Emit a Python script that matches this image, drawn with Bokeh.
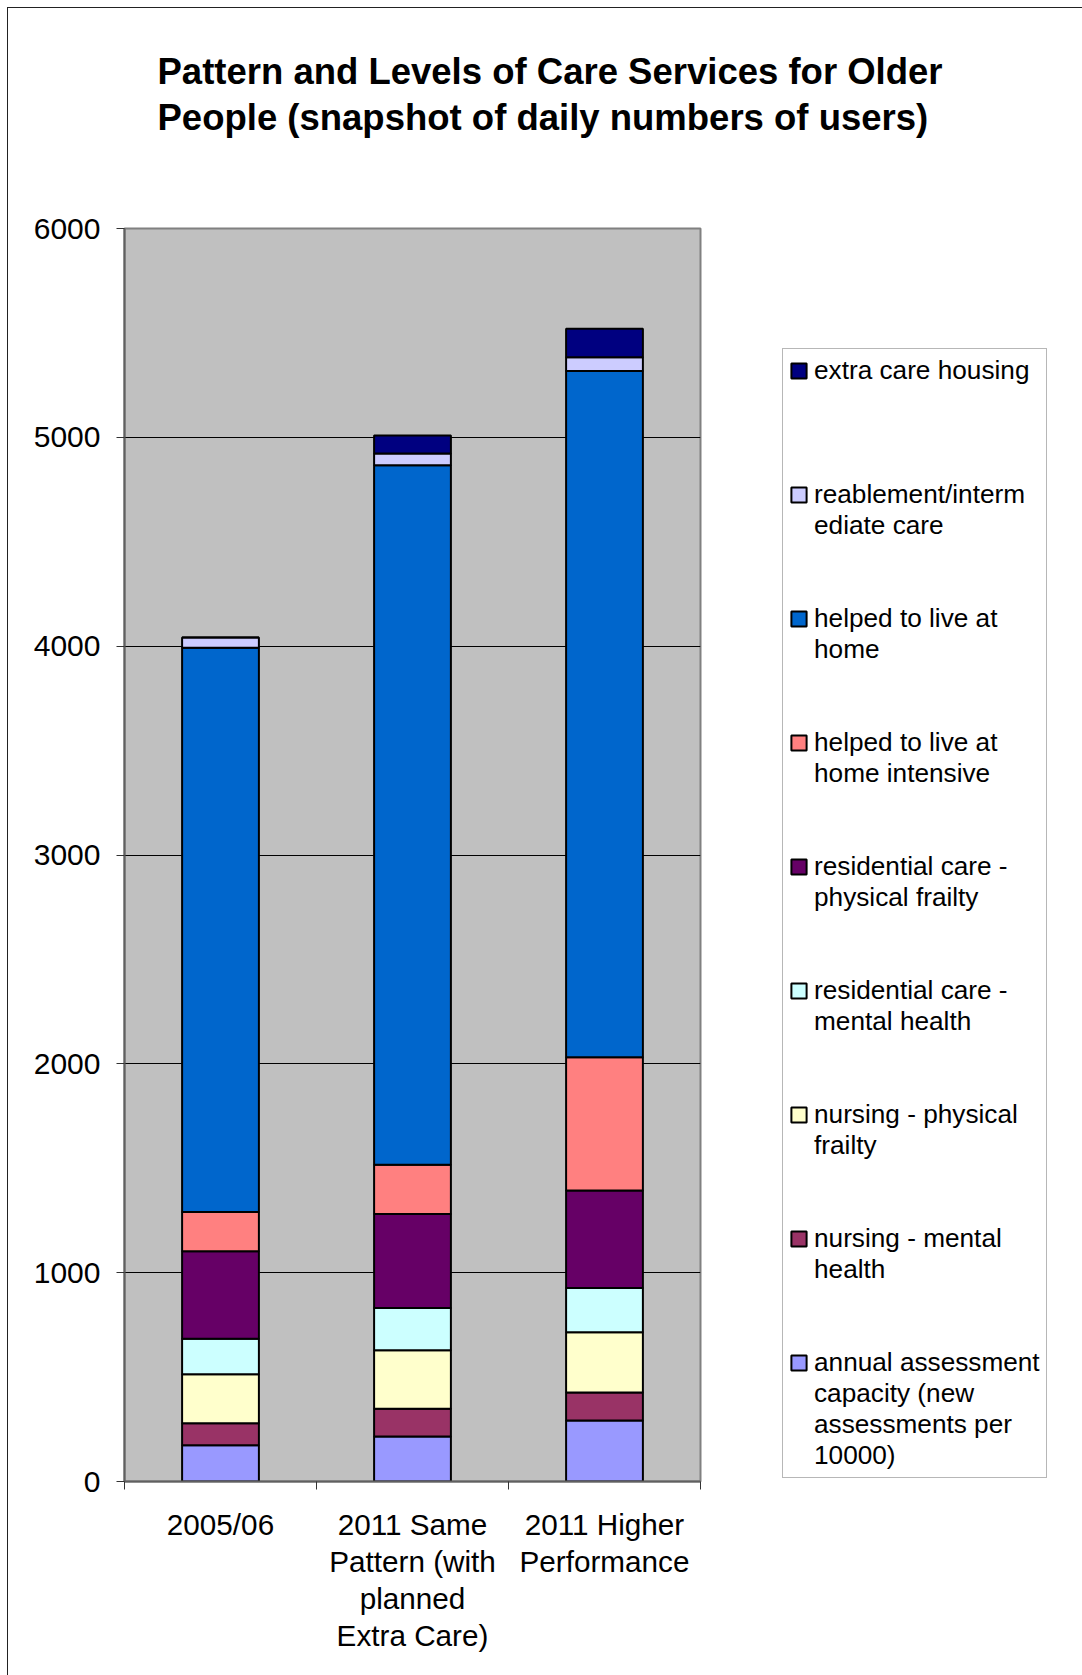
from bokeh.plotting import figure
from bokeh.models import (Range1d, LinearAxis, FixedTicker, Legend, LegendItem, Title,
                          ColumnDataSource, CustomJSTickFormatter)
from bokeh.embed import file_html
from bokeh.resources import INLINE

# ---- data ----
categories = ["2005/06", "2011 Same Pattern (with planned Extra Care)", "2011 Higher Performance"]
category_labels = ["2005/06", "2011 Same\nPattern (with\nplanned\nExtra Care)", "2011 Higher\nPerformance"]

annual_assessment = [174, 216, 292]
nursing_mental = [105, 132, 134]
nursing_physical = [235, 280, 289]
residential_mental = [170, 203, 211]
residential_physical = [418, 450, 467]
home_intensive = [188, 236, 638]
home = [2703, 3349, 3287]
reablement = [48, 57, 65]
extra_care = [0, 86, 137]

series_keys = ["annual", "nurs_mh", "nurs_pf", "res_mh", "res_pf", "home_int", "home", "reab", "extra"]
series_labels = [
    "annual assessment\ncapacity (new\nassessments per\n10000)",
    "nursing - mental\nhealth",
    "nursing - physical\nfrailty",
    "residential care -\nmental health",
    "residential care -\nphysical frailty",
    "helped to live at\nhome intensive",
    "helped to live at\nhome",
    "reablement/interm\nediate care",
    "extra care housing",
]
series_colors = ["#9999FF", "#993366", "#FFFFCC", "#CCFFFF", "#660066",
                 "#FF8080", "#0066CC", "#CCCCFF", "#000080"]
y_ticks = [0, 1000, 2000, 3000, 4000, 5000, 6000]

n_cat = len(categories)
cat_centers = [i + 0.5 for i in range(n_cat)]      # slot centres on the category scale
cat_edges = [float(i) for i in range(n_cat + 1)]   # slot boundaries (tick marks)

source = ColumnDataSource(dict(
    x=cat_centers, cat=categories,
    annual=annual_assessment, nurs_mh=nursing_mental, nurs_pf=nursing_physical,
    res_mh=residential_mental, res_pf=residential_physical, home_int=home_intensive,
    home=home, reab=reablement, extra=extra_care,
))

FONT = "Liberation Sans"

p = figure(x_range=Range1d(0, n_cat), y_range=Range1d(0, 6000),
           frame_width=576, frame_height=1253,
           min_border_left=116, min_border_right=0, min_border_top=220, min_border_bottom=194,
           x_axis_location=None, output_backend="svg", toolbar_location=None)

p.styles = {"margin-left": "7px", "margin-top": "7px",
            "border-left": "1px solid #222222", "border-top": "1px solid #222222"}

p.background_fill_color = "#C0C0C0"
p.border_fill_color = "white"
p.outline_line_color = "#808080"
p.outline_line_width = 2

# title (outermost) + a thin spacer title between it and the frame
p.title.text = "Pattern and Levels of Care Services for Older\nPeople (snapshot of daily numbers of users)"
p.title.align = "left"
p.title.offset = 33
p.title.text_font = FONT
p.title.text_font_size = "36.5px"
p.title.text_font_style = "bold"
p.title.text_color = "black"
p.title.text_line_height = 1.128
p.title.standoff = 76
p.add_layout(Title(text=" ", text_font_size="10px", standoff=39), "above")

# grid
p.xgrid.grid_line_color = None
p.ygrid.grid_line_color = "black"
p.ygrid.grid_line_width = 1
p.ygrid.ticker = FixedTicker(ticks=y_ticks)

# y axis
ya = p.yaxis[0]
ya.ticker = FixedTicker(ticks=y_ticks)
ya.major_label_text_font = FONT
ya.major_label_text_font_size = "30px"
ya.major_label_text_color = "black"
ya.major_label_standoff = 16
ya.major_tick_out = 8
ya.major_tick_in = 0
ya.major_tick_line_color = "#333333"
ya.minor_tick_line_color = None
ya.axis_line_color = "#606060"
ya.axis_line_width = 2

# x axis: tick marks at category boundaries
tick_axis = LinearAxis(ticker=FixedTicker(ticks=cat_edges),
                       formatter=CustomJSTickFormatter(code="return ''"),
                       major_tick_out=8, major_tick_in=0, minor_tick_line_color=None,
                       major_tick_line_color="#333333", axis_line_color="#606060", axis_line_width=2,
                       major_label_text_font_size="1px", major_label_standoff=0)
p.add_layout(tick_axis, "below")

# x axis: category labels
cat_axis = LinearAxis(ticker=FixedTicker(ticks=cat_centers),
                      formatter=CustomJSTickFormatter(args=dict(labels=category_labels),
                                                      code="return labels[Math.floor(tick)]"),
                      axis_line_color=None, major_tick_line_color=None,
                      minor_tick_line_color=None, major_tick_out=0, major_tick_in=0,
                      major_label_text_font=FONT, major_label_text_font_size="29.7px",
                      major_label_text_color="black", major_label_text_line_height=1.127,
                      major_label_standoff=18)
p.add_layout(cat_axis, "below")

# bars
renderers = p.vbar_stack(series_keys, x="x", width=0.4, color=series_colors,
                         line_color="black", line_width=2, source=source)

# legend: one row per text line; the colour key sits on each entry's first line,
# continuation/blank rows use an invisible key
blank_key = p.scatter(x=[], y=[], size=1, fill_alpha=0, line_alpha=0)
LINES_PER_ENTRY = 4
items = []
for lbl, r in list(zip(series_labels, renderers))[::-1]:
    lines = lbl.split("\n")
    lines = lines + ["\u00a0"] * (LINES_PER_ENTRY - len(lines))
    for j, line in enumerate(lines):
        items.append(LegendItem(label=line, renderers=[r if j == 0 else blank_key]))
while items and items[-1].label.value == "\u00a0":
    items.pop()

legend = Legend(items=items, location=(82, 3), margin=0, padding=6, spacing=0,
                glyph_width=19, glyph_height=19, label_standoff=6,
                label_text_font=FONT, label_text_font_size="26.2px", label_text_color="black",
                label_text_line_height=1.0, label_height=1, label_width=20,
                border_line_color="#707070", border_line_width=1,
                background_fill_color="white", background_fill_alpha=1)
p.add_layout(legend, "right")

open("out.html", "w").write(file_html(p, INLINE))
